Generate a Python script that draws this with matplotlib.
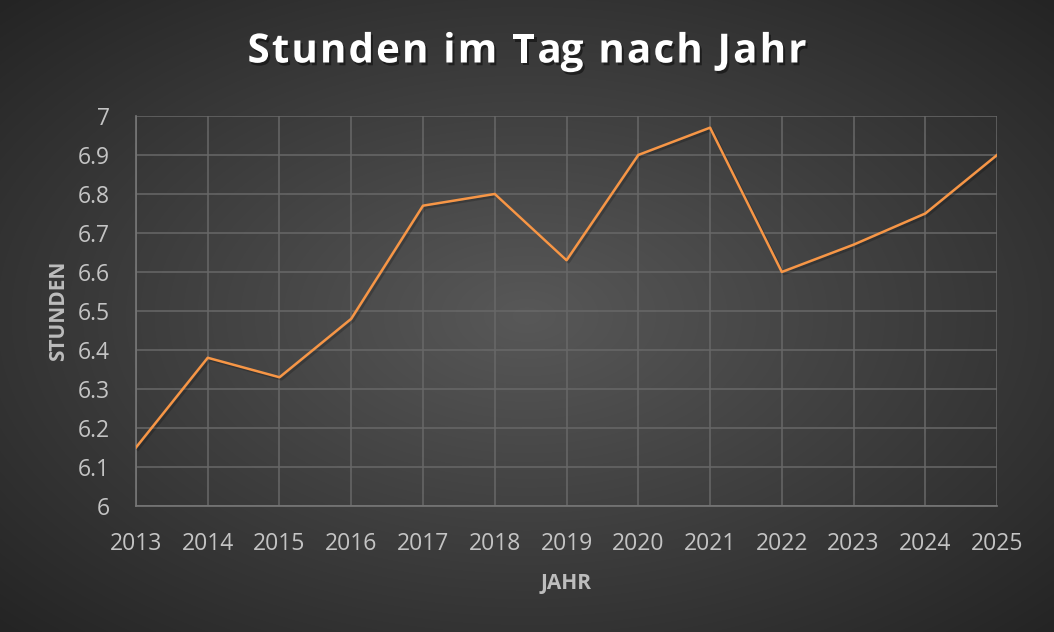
import numpy as np
import matplotlib
matplotlib.use('Agg')
import matplotlib.pyplot as plt
import matplotlib.patheffects as pe

years = [2013, 2014, 2015, 2016, 2017, 2018, 2019, 2020, 2021, 2022, 2023, 2024, 2025]
hours = [6.15, 6.38, 6.33, 6.48, 6.77, 6.80, 6.63, 6.90, 6.97, 6.60, 6.67, 6.75, 6.90]
y_ticks = [6, 6.1, 6.2, 6.3, 6.4, 6.5, 6.6, 6.7, 6.8, 6.9, 7]
y_ticklabels = ['6', '6.1', '6.2', '6.3', '6.4', '6.5', '6.6', '6.7', '6.8', '6.9', '7']
title = 'Stunden im Tag nach Jahr'

plt.rcParams['font.family'] = ['Open Sans', 'DejaVu Sans']

fig = plt.figure(figsize=(10.54, 6.32), dpi=100)

# radial gradient background
bg = fig.add_axes([0, 0, 1, 1])
w, h = 1054, 632
xx, yy = np.meshgrid(np.linspace(-1, 1, w), np.linspace(-1, 1, h))
r = np.sqrt(xx**2 + yy**2) / np.sqrt(2)
inner = np.array([0x58, 0x58, 0x58]) / 255.0
outer = np.array([0x24, 0x24, 0x24]) / 255.0
t = np.clip(r, 0, 1)[..., None]
img = inner * (1 - t) + outer * t
bg.imshow(img, aspect='auto', extent=[0, 1, 0, 1])
bg.axis('off')

ax = fig.add_axes([0.129, 0.1994, 0.817, 0.6171])
ax.set_facecolor('none')
grid_col = '#686868'
ax.plot(years, hours, color='#F79646', lw=1.8, zorder=3,
        path_effects=[pe.SimpleLineShadow(offset=(1.5, -1.5), shadow_color='black', alpha=0.2),
                      pe.Normal()])
ax.set_xlim(2013, 2025)
ax.set_ylim(6, 7)
ax.set_xticks(years)
ax.set_yticks(y_ticks)
ax.set_yticklabels(y_ticklabels)
ax.grid(True, color=grid_col, lw=1.1)
ax.set_axisbelow(True)
for s in ['top', 'right']:
    ax.spines[s].set_visible(False)
for s in ['left', 'bottom']:
    ax.spines[s].set_color('#777777')
    ax.spines[s].set_linewidth(1.2)
ax.tick_params(length=0, colors='#c4c4c4', labelsize=16.5)
ax.tick_params(axis='x', pad=19)
ax.tick_params(axis='y', pad=19)

ax.set_xlabel('JAHR', color='#bdbdbd', fontsize=15, fontweight='bold', labelpad=12)
ax.set_ylabel('STUNDEN', color='#bdbdbd', fontsize=15, fontweight='bold', labelpad=6)

# title with letter spacing, drawn char by char
renderer = fig.canvas.get_renderer()
tprops = dict(color='white', fontsize=29, fontweight='bold', va='center', ha='left')

def text_width(s):
    tt = fig.text(0, 0, s + '|', **tprops)
    bar = fig.text(0, 0, '|', **tprops)
    wdt = tt.get_window_extent(renderer).width - bar.get_window_extent(renderer).width
    tt.remove()
    bar.remove()
    return wdt

target_w = 559
natural = text_width(title)
track = (target_w - natural) / (len(title) - 1)
x0 = 527 - target_w / 2
shadow = [pe.withSimplePatchShadow(offset=(1.5, -2), shadow_rgbFace='black', alpha=0.45)]
for i, ch in enumerate(title):
    if ch == ' ':
        continue
    xpos = x0 + text_width(title[:i]) + i * track
    fig.text(xpos / w, 1 - 52 / h, ch, path_effects=shadow, **tprops)

fig.savefig('out.png', dpi=100)
